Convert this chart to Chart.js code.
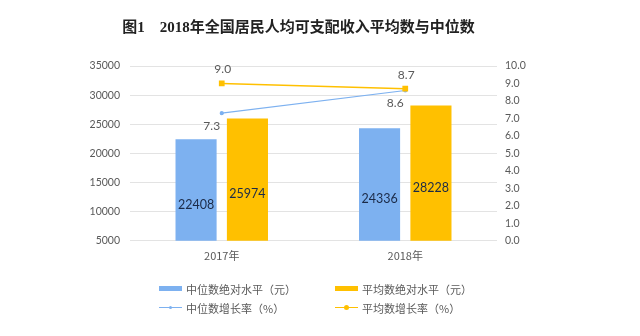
<!DOCTYPE html>
<html>
<head>
<meta charset="utf-8">
<script src="https://cdn.jsdelivr.net/npm/chart.js@4.4.0/dist/chart.umd.min.js"></script>
<style>
  body { margin: 0; background: #fff; }
  #wrap { position: relative; width: 640px; height: 336px; }
  #legend {
    position: absolute; left: 159px; top: 279px;
    display: grid; grid-template-columns: 176px 180px; grid-auto-rows: 19px;
    font: 11px "Noto Sans CJK SC", sans-serif; color: #595959;
  }
  .item { display: flex; align-items: center; }
  .sym { position: relative; width: 23px; height: 19px; margin-right: 4px; }
  .sym .box { position: absolute; left: 0; top: 7px; width: 23px; height: 5px; }
  .sym .ln { position: absolute; left: 0; top: 9px; width: 23px; height: 1px; }
  .sym .dot { position: absolute; left: 9px; top: 7px; width: 5px; height: 5px; border-radius: 50%; }
</style>
</head>
<body>
<div id="wrap">
  <canvas id="c" width="640" height="336"></canvas>
  <div id="legend"></div>
</div>
<script>
// 数据
var years = ['2017年', '2018年'];
var medianIncome = [22408, 24336];   // 中位数绝对水平（元）
var meanIncome = [25974, 28228];     // 平均数绝对水平（元）
var medianGrowth = [7.3, 8.6];       // 中位数增长率（%）
var meanGrowth = [9.0, 8.7];         // 平均数增长率（%）

var blue = '#7DB1F0';
var orange = '#FFC000';

// 数据标签插件
var valueLabels = {
    id: 'valueLabels',
    afterDatasetsDraw: function (chart) {
        var ctx = chart.ctx;
        ctx.save();
        chart.data.datasets.forEach(function (ds, i) {
            var meta = chart.getDatasetMeta(i);
            meta.data.forEach(function (el, j) {
                var v = ds.data[j];
                ctx.textAlign = 'center';
                ctx.textBaseline = 'middle';
                if (ds.type === 'bar') {
                    ctx.font = '12.5px Lato, sans-serif';
                    ctx.fillStyle = '#1B2A47';
                    ctx.fillText(String(v), el.x, (el.y + el.base) / 2);
                } else if (ds.label.indexOf('平均') === 0) {
                    ctx.font = '12px Lato, sans-serif';
                    ctx.fillStyle = '#595959';
                    ctx.fillText(v.toFixed(1), el.x + 1, el.y - 14);
                } else {
                    ctx.font = '12px Lato, sans-serif';
                    ctx.fillStyle = '#595959';
                    ctx.fillText(v.toFixed(1), el.x - 10, el.y + 13);
                }
            });
        });
        ctx.restore();
    }
};

var chart = new Chart(document.getElementById('c').getContext('2d'), {
    data: {
        labels: years,
        datasets: [{
            type: 'line', label: '平均数增长率（%）', data: meanGrowth, yAxisID: 'y1',
            borderColor: orange, backgroundColor: orange, borderWidth: 1.5,
            pointStyle: 'rect', pointRadius: 3, order: 0
        }, {
            type: 'line', label: '中位数增长率（%）', data: medianGrowth, yAxisID: 'y1',
            borderColor: blue, backgroundColor: blue, borderWidth: 1.2,
            pointRadius: 1.5, order: 1
        }, {
            type: 'bar', label: '中位数绝对水平（元）', data: medianIncome, yAxisID: 'y',
            backgroundColor: blue, barPercentage: 0.8, categoryPercentage: 0.56, order: 2
        }, {
            type: 'bar', label: '平均数绝对水平（元）', data: meanIncome, yAxisID: 'y',
            backgroundColor: orange, barPercentage: 0.8, categoryPercentage: 0.56, order: 3
        }]
    },
    options: {
        responsive: false,
        animation: false,
        layout: { padding: { left: 60, right: 103, bottom: 66 } },
        plugins: {
            legend: { display: false },
            tooltip: { enabled: false },
            title: {
                display: true,
                text: '图1　2018年全国居民人均可支配收入平均数与中位数',
                font: { family: '"Liberation Serif", "Noto Sans CJK SC"', size: 15, weight: 'bold' },
                color: '#222',
                padding: { top: 19, bottom: 29 }
            }
        },
        scales: {
            x: {
                grid: { display: false, drawTicks: false },
                border: { display: false },
                ticks: { color: '#595959', font: { family: '"Noto Sans CJK SC", sans-serif', size: 11 }, padding: 8 }
            },
            y: {
                position: 'left', min: 5000, max: 35000,
                ticks: { stepSize: 5000, color: '#595959', font: { family: 'Lato, sans-serif', size: 10.5 }, padding: 10,
                    callback: function (v) { return String(v); } },
                grid: { color: '#E3E3E3', drawTicks: false },
                border: { display: false },
                afterFit: function (s) { s.width = 70; }
            },
            y1: {
                position: 'right', min: 0, max: 10,
                ticks: { stepSize: 1, color: '#595959', font: { family: 'Lato, sans-serif', size: 10.5 }, padding: 8,
                    callback: function (v) { return v.toFixed(1); } },
                grid: { display: false, drawTicks: false },
                border: { display: false },
                afterFit: function (s) { s.width = 40; }
            }
        }
    },
    plugins: [valueLabels]
});

// 图例
var legendItems = [
    { text: '中位数绝对水平（元）', kind: 'box', color: blue },
    { text: '平均数绝对水平（元）', kind: 'box', color: orange },
    { text: '中位数增长率（%）', kind: 'line', color: blue },
    { text: '平均数增长率（%）', kind: 'line', color: orange }
];
var lg = document.getElementById('legend');
legendItems.forEach(function (it) {
    var sym = it.kind === 'box'
        ? '<span class="box" style="background:' + it.color + '"></span>'
        : '<span class="ln" style="background:' + it.color + '"></span><span class="dot" style="background:' + it.color + ';' +
          (it.color === blue ? 'width:3px;height:3px;left:10px;top:8px;' : '') + '"></span>';
    lg.insertAdjacentHTML('beforeend', '<div class="item"><span class="sym">' + sym + '</span>' + it.text + '</div>');
});
</script>
</body>
</html>
